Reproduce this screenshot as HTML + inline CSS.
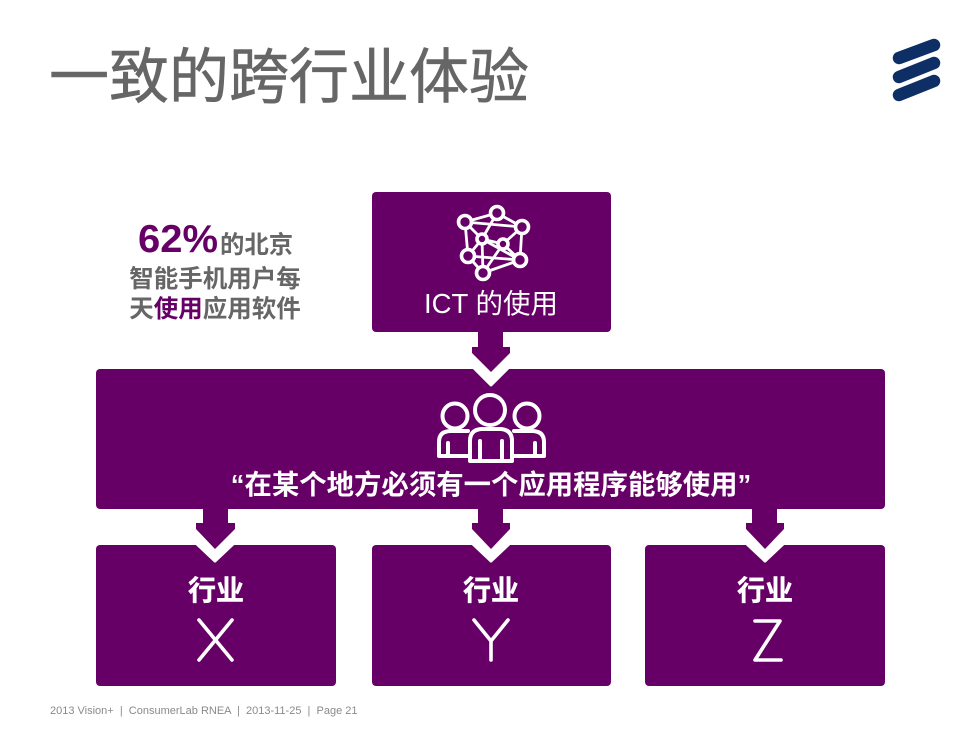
<!DOCTYPE html>
<html lang="zh">
<head>
<meta charset="utf-8">
<style>
html,body{margin:0;padding:0;background:#fff;width:980px;height:733px;overflow:hidden}
svg{display:block}
text{font-family:"Liberation Sans","Noto Sans CJK SC",sans-serif}
</style>
</head>
<body>
<svg width="980" height="733" viewBox="0 0 980 733" xmlns="http://www.w3.org/2000/svg">
  <rect width="980" height="733" fill="#fff"/>
  <!-- Title -->
  <text x="49" y="98" font-size="60" fill="#666" stroke="#666" stroke-width="0.6" textLength="480" lengthAdjust="spacingAndGlyphs">一致的跨行业体验</text>
  <!-- Logo -->
  <g stroke="#0d2f66" stroke-width="12.5" stroke-linecap="round">
    <line x1="899" y1="58" x2="934" y2="45"/>
    <line x1="899" y1="77" x2="934" y2="63"/>
    <line x1="899" y1="95" x2="934" y2="81"/>
  </g>
  <!-- Boxes -->
  <g fill="#660066">
    <rect x="372" y="192" width="239" height="140" rx="4"/>
    <rect x="96" y="369" width="789" height="140" rx="4"/>
    <rect x="96" y="545" width="240" height="141" rx="4"/>
    <rect x="372" y="545" width="239" height="141" rx="4"/>
    <rect x="645" y="545" width="240" height="141" rx="4"/>
  </g>
  <!-- White chevrons behind arrow tips -->
  <g fill="#fff" stroke="#fff" stroke-width="3" stroke-linejoin="round">
    <path d="M473 367L491 385L509 367Z"/>
    <path d="M197 544L215 561L233 544Z"/>
    <path d="M473 544L491 561L509 544Z"/>
    <path d="M747 544L765 561L783 544Z"/>
  </g>
  <!-- Arrows -->
  <g fill="#660066">
    <path d="M478 330H503V347H510V353L491 372L472 353V347H478Z"/>
    <path d="M203 507H228V523H235V529L215 549L196 529V523H203Z"/>
    <path d="M478 507H503V523H510V529L491 549L472 529V523H478Z"/>
    <path d="M752 507H777V523H784V529L765 549L746 529V523H752Z"/>
  </g>
  <!-- Network icon -->
  <g stroke="#fff" stroke-width="2.8" fill="none" stroke-linejoin="round">
    <path d="M465 222L497 213L522 227L520 260L483 273L468 256Z"/>
    <path d="M465 222L482 239L468 256L483 273L503 244L520 260M497 213L482 239L503 244L522 227M465 222L522 227M482 239L483 273M468 256L520 260M482 239L520 260"/>
  </g>
  <g stroke="#fff" stroke-width="3.6" fill="#660066">
    <circle cx="465" cy="222" r="6.5"/>
    <circle cx="497" cy="213" r="6.5"/>
    <circle cx="522" cy="227" r="6.5"/>
    <circle cx="520" cy="260" r="6.5"/>
    <circle cx="483" cy="273" r="6.5"/>
    <circle cx="468" cy="256" r="6.5"/>
    <circle cx="482" cy="239" r="5"/>
    <circle cx="503" cy="244" r="5"/>
  </g>
  <text x="491" y="313" font-size="27.5" fill="#fff" text-anchor="middle">ICT 的使用</text>
  <!-- People icon -->
  <g stroke="#fff" stroke-width="4" fill="#660066" stroke-linejoin="round" stroke-linecap="round">
    <circle cx="455" cy="416" r="12.5"/>
    <circle cx="527" cy="416" r="12.5"/>
    <path d="M468 456H439V442Q439 431 451 431H468"/>
    <path d="M514 456H544V442Q544 431 532 431H514"/>
    <path d="M470 461V441Q470 430 481 429H501Q512 430 512 441V461Z"/>
    <path d="M480 461V441M502 461V441M448 456V443M535 456V443"/>
    <circle cx="490" cy="410" r="15"/>
  </g>
  <text x="491" y="494" font-size="27.4" font-weight="700" fill="#fff" text-anchor="middle">“在某个地方必须有一个应用程序能够使用”</text>
  <!-- Industries -->
  <g fill="#fff" stroke="#fff" stroke-width="0.4" text-anchor="middle" font-size="28" font-weight="700">
    <text x="216" y="600">行业</text>
    <text x="491" y="600">行业</text>
    <text x="765" y="600">行业</text>
  </g>
  <g stroke="#fff" stroke-width="3.6" fill="none" stroke-linecap="round" stroke-linejoin="round">
    <path d="M199 620L232 660M232 620L199 660"/>
    <path d="M474 620L491 641L508 620M491 641V660"/>
    <path d="M755 621H780L755 660H781"/>
  </g>
  <!-- Left text -->
  <text x="138" y="252" font-size="39" font-weight="700" fill="#660066" textLength="80" lengthAdjust="spacingAndGlyphs">62%</text>
  <text x="220" y="253" font-size="24.4" font-weight="700" fill="#666">的北京</text>
  <text x="215" y="287" text-anchor="middle" font-size="24.5" font-weight="700" fill="#666">智能手机用户每</text>
  <text x="215" y="317" text-anchor="middle" font-size="24.5" font-weight="700" fill="#666">天<tspan fill="#660066">使用</tspan>应用软件</text>
  <!-- Footer -->
  <text x="50" y="714" font-size="11" fill="#8a8a8a" xml:space="preserve">2013 Vision+  |  ConsumerLab RNEA  |  2013-11-25  |  Page 21</text>
</svg>
</body>
</html>
